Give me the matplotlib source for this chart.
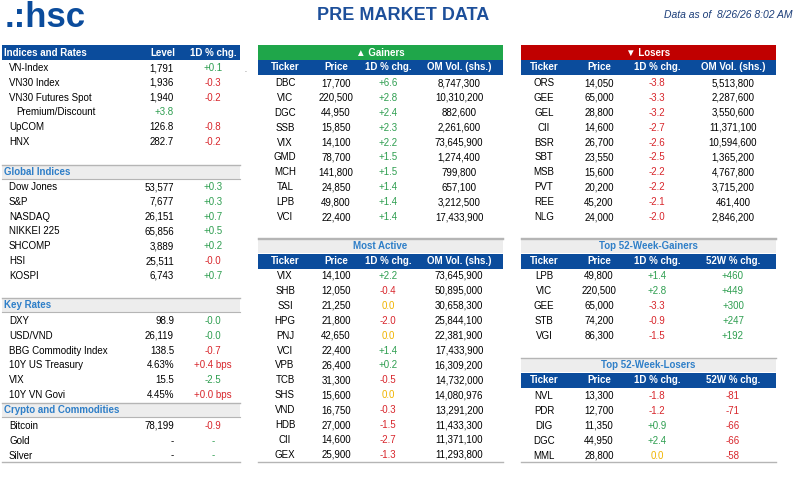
import matplotlib
matplotlib.use("Agg")
import matplotlib.pyplot as plt
from matplotlib.patches import Rectangle

plt.rcParams['font.family'] = ['Liberation Sans', 'DejaVu Sans']

GREEN = '#2e9e50'; RED = '#d8262c'; YEL = '#f0b400'; BLUE = '#0b4c9c'
LBLUE = '#2f7fc8'; GRAYBAR = '#ededed'; LINE = '#b5b5b5'

# ---------- data ----------
idx_names = ["VN-Index", "VN30 Index", "VN30 Futures Spot", "Premium/Discount", "UpCOM", "HNX"]
idx_level = ["1,791", "1,936", "1,940", "+3.8", "126.8", "282.7"]
idx_chg = ["+0.1", "-0.3", "-0.2", "", "-0.8", "-0.2"]

glob_names = ["Dow Jones", "S&P", "NASDAQ", "NIKKEI 225", "SHCOMP", "HSI", "KOSPI"]
glob_level = ["53,577", "7,677", "26,151", "65,856", "3,889", "25,511", "6,743"]
glob_chg = ["+0.3", "+0.3", "+0.7", "+0.5", "+0.2", "-0.0", "+0.7"]

rate_names = ["DXY", "USD/VND", "BBG Commodity Index", "10Y US Treasury", "VIX", "10Y VN Govi"]
rate_level = ["98.9", "26,119", "138.5", "4.63%", "15.5", "4.45%"]
rate_chg = ["-0.0", "-0.0", "-0.7", "+0.4 bps", "-2.5", "+0.0 bps"]
rate_col = [GREEN, GREEN, RED, RED, GREEN, RED]

cry_names = ["Bitcoin", "Gold", "Silver"]
cry_level = ["78,199", "-", "-"]
cry_chg = ["-0.9", "-", "-"]
cry_col = [RED, GREEN, GREEN]

gain_tk = ["DBC", "VIC", "DGC", "SSB", "VIX", "GMD", "MCH", "TAL", "LPB", "VCI"]
gain_px = ["17,700", "220,500", "44,950", "15,850", "14,100", "78,700", "141,800", "24,850", "49,800", "22,400"]
gain_chg = ["+6.6", "+2.8", "+2.4", "+2.3", "+2.2", "+1.5", "+1.5", "+1.4", "+1.4", "+1.4"]
gain_vol = ["8,747,300", "10,310,200", "882,600", "2,261,600", "73,645,900", "1,274,400", "799,800", "657,100", "3,212,500", "17,433,900"]

lose_tk = ["ORS", "GEE", "GEL", "CII", "BSR", "SBT", "MSB", "PVT", "REE", "NLG"]
lose_px = ["14,050", "65,000", "28,800", "14,600", "26,700", "23,550", "15,600", "20,200", "45,200", "24,000"]
lose_chg = ["-3.8", "-3.3", "-3.2", "-2.7", "-2.6", "-2.5", "-2.2", "-2.2", "-2.1", "-2.0"]
lose_vol = ["5,513,800", "2,287,600", "3,550,600", "11,371,100", "10,594,600", "1,365,200", "4,767,800", "3,715,200", "461,400", "2,846,200"]

act_tk = ["VIX", "SHB", "SSI", "HPG", "PNJ", "VCI", "VPB", "TCB", "SHS", "VND", "HDB", "CII", "GEX"]
act_px = ["14,100", "12,050", "21,250", "21,800", "42,650", "22,400", "26,400", "31,300", "15,600", "16,750", "27,000", "14,600", "25,900"]
act_chg = ["+2.2", "-0.4", "0.0", "-2.0", "0.0", "+1.4", "+0.2", "-0.5", "0.0", "-0.3", "-1.5", "-2.7", "-1.3"]
act_vol = ["73,645,900", "50,895,000", "30,658,300", "25,844,100", "22,381,900", "17,433,900", "16,309,200", "14,732,000", "14,080,976", "13,291,200", "11,433,300", "11,371,100", "11,293,800"]

w52g_tk = ["LPB", "VIC", "GEE", "STB", "VGI"]
w52g_px = ["49,800", "220,500", "65,000", "74,200", "86,300"]
w52g_chg = ["+1.4", "+2.8", "-3.3", "-0.9", "-1.5"]
w52g_52 = ["+460", "+449", "+300", "+247", "+192"]

w52l_tk = ["NVL", "PDR", "DIG", "DGC", "MML"]
w52l_px = ["13,300", "12,700", "11,350", "44,950", "28,800"]
w52l_chg = ["-1.8", "-1.2", "+0.9", "+2.4", "0.0"]
w52l_52 = ["-81", "-71", "-66", "-66", "-58"]

# ---------- drawing ----------
fig = plt.figure(figsize=(8, 4.78), dpi=100)
ax = fig.add_axes([0, 0, 1, 1])
ax.set_xlim(0, 800); ax.set_ylim(478, 0); ax.axis('off')
FS = 7

def col_of(s):
    if s.startswith('+'):
        return GREEN
    if s.startswith('-') and s != '-':
        return RED
    if s == '0.0':
        return YEL
    return GREEN

def txt(x, y, s, ha='center', c='black', **kw):
    ax.text(x, y, s, ha=ha, va='center', color=c, fontsize=kw.pop('fs', FS), **kw)

# logo / title
txt(5, 17, ".:hsc", ha='left', c=BLUE, fs=25, fontweight='bold')
txt(403, 15, "PRE MARKET DATA", c='#1d4f9a', fs=13, fontweight='bold')
txt(792, 15, "Data as of  8/26/26 8:02 AM", ha='right', c='#1d3f7a', fs=7.5, style='italic')

# left panel
L0, L1 = 2, 240
ax.add_patch(Rectangle((L0, 45), L1 - L0, 15, color=BLUE, lw=0))
txt(4, 52.5, "Indices and Rates", ha='left', c='white', fontweight='bold')
txt(163, 52.5, "Level", c='white', fontweight='bold')
txt(213, 52.5, "1D % chg.", c='white', fontweight='bold')
txt(245, 70, ".", c='#555555', fs=5)

def section_bar(y, label):
    ax.add_patch(Rectangle((L0, y), L1 - L0, 14, color=GRAYBAR, lw=0))
    ax.plot([L0, L1], [y, y], color=LINE, lw=1)
    ax.plot([L0, L1], [y + 14, y + 14], color=LINE, lw=0.8)
    txt(4, y + 7, label, ha='left', c=LBLUE, fontweight='bold')

def rows(y0, names, levels, chgs, cols=None, dy=14.8):
    for i, (n, l, c) in enumerate(zip(names, levels, chgs)):
        y = y0 + i * dy
        indent = 16 if n == "Premium/Discount" else 9
        txt(indent, y, n, ha='left')
        lc = GREEN if l.startswith('+') else 'black'
        txt(174, y, l, ha='right', c=lc)
        if c:
            cc = cols[i] if cols else col_of(c)
            txt(213, y, c, c=cc)

rows(68, idx_names, idx_level, idx_chg)
section_bar(165, "Global Indices")
rows(187, glob_names, glob_level, glob_chg)
section_bar(298, "Key Rates")
rows(321, rate_names, rate_level, rate_chg, rate_col)
section_bar(403, "Crypto and Commodities")
rows(426, cry_names, cry_level, cry_chg, cry_col)
ax.plot([L0, L1], [462, 462], color=LINE, lw=1)

# right tables
def table(x0, x1, ytitle, title, tstyle, headers, xs, cols, y0, dy, ybottom):
    if tstyle == 'gray':
        ax.add_patch(Rectangle((x0, ytitle), x1 - x0, 14, color=GRAYBAR, lw=0))
        ax.plot([x0, x1], [ytitle, ytitle], color=LINE, lw=1)
        txt((x0 + x1) / 2, ytitle + 7, title, c=LBLUE, fontweight='bold')
    else:
        ax.add_patch(Rectangle((x0, ytitle), x1 - x0, 15, color=tstyle, lw=0))
        txt((x0 + x1) / 2, ytitle + 7.5, title, c='white', fontweight='bold')
    yh = ytitle + 14.5
    ax.add_patch(Rectangle((x0, yh), x1 - x0, 15, color=BLUE, lw=0))
    for h, x in zip(headers, xs):
        txt(x, yh + 7.5, h, c='white', fontweight='bold')
    n = len(cols[0])
    for i in range(n):
        y = y0 + i * dy
        for j, (col, x) in enumerate(zip(cols, xs)):
            s = col[i]
            c = col_of(s) if j in (2, 3) and (s[0] in '+-' or s == '0.0') else 'black'
            txt(x, y, s, c=c)
    if ybottom:
        ax.plot([x0, x1], [ybottom, ybottom], color=LINE, lw=1)

HV = ["Ticker", "Price", "1D % chg.", "OM Vol. (shs.)"]
H52 = ["Ticker", "Price", "1D % chg.", "52W % chg."]
XA = [285, 336, 388, 459]
XB = [544, 599, 657, 733]
table(258, 503, 45, "\u25b2 Gainers", '#1fa64a', HV, XA, [gain_tk, gain_px, gain_chg, gain_vol], 83, 14.9, 238)
table(521, 776, 45, "\u25bc Losers", '#c00000', HV, XB, [lose_tk, lose_px, lose_chg, lose_vol], 83, 14.9, 238)
table(258, 503, 239, "Most Active", 'gray', HV, XA, [act_tk, act_px, act_chg, act_vol], 276, 14.9, 462)
table(521, 776, 239, "Top 52-Week-Gainers", 'gray', H52, XB, [w52g_tk, w52g_px, w52g_chg, w52g_52], 276, 14.9, None)
table(521, 776, 358, "Top 52-Week-Losers", 'gray', H52, XB, [w52l_tk, w52l_px, w52l_chg, w52l_52], 396, 14.9, 462)

fig.savefig("out.png", dpi=100)
